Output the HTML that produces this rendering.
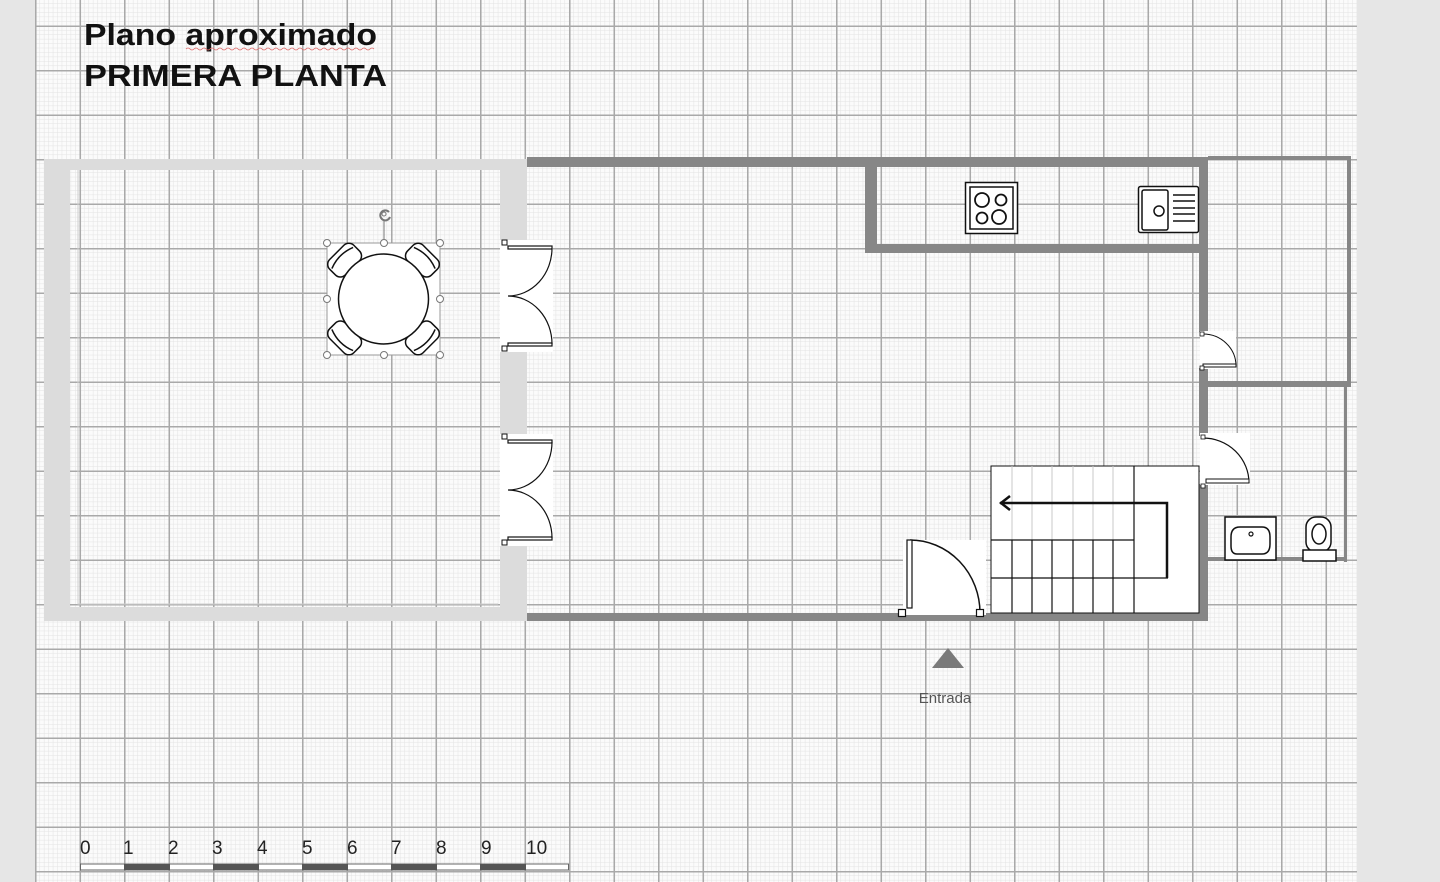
<!DOCTYPE html>
<html><head><meta charset="utf-8"><style>
html,body{margin:0;padding:0;background:#e6e6e6;}
svg{display:block;}
text{font-family:"Liberation Sans",Arial,sans-serif;}
</style></head><body>
<svg width="1440" height="882" viewBox="0 0 1440 882" xmlns="http://www.w3.org/2000/svg">
<defs>
<pattern id="minor" x="35" y="25.5" width="4.45" height="4.45" patternUnits="userSpaceOnUse">
<rect width="4.45" height="4.45" fill="#fbfbfb"/>
<path d="M0 0H4.45M0 0V4.45" stroke="#e3e3e3" stroke-width="1"/>
</pattern>
<pattern id="major" x="35" y="25.5" width="44.5" height="44.5" patternUnits="userSpaceOnUse">
<path d="M0.75 0V44.5M0 0.75H44.5" stroke="#a9a9a9" stroke-width="1.6"/>
</pattern>
</defs>
<rect x="0" y="0" width="1440" height="882" fill="#e6e6e6"/>
<rect x="35" y="0" width="1322" height="882" fill="url(#minor)"/>
<rect x="35" y="0" width="1322" height="882" fill="url(#major)"/>

<!-- title -->
<text x="84" y="45" font-size="31" font-weight="bold" fill="#111" textLength="293" lengthAdjust="spacingAndGlyphs">Plano aproximado</text>
<path d="M186 49 q2 -2 4 0 t4 0 t4 0 t4 0 t4 0 t4 0 t4 0 t4 0 t4 0 t4 0 t4 0 t4 0 t4 0 t4 0 t4 0 t4 0 t4 0 t4 0 t4 0 t4 0 t4 0 t4 0 t4 0 t4 0 t4 0 t4 0 t4 0 t4 0 t4 0 t4 0 t4 0 t4 0 t4 0 t4 0 t4 0 t4 0 t4 0 t4 0 t4 0 t4 0 t4 0 t4 0 t4 0 t4 0 t4 0 t4 0 t4 0" stroke="#d66" stroke-width="0.8" fill="none"/>
<text x="84" y="86" font-size="31" font-weight="bold" fill="#111" textLength="303" lengthAdjust="spacingAndGlyphs">PRIMERA PLANTA</text>

<!-- light walls left room -->
<path d="M44 159H527V621H44Z M70 170V607H500V170Z" fill="#dcdcdc" fill-rule="evenodd"/>
<path d="M78 170V604H498" stroke="#cfcfcf" stroke-width="1" fill="none"/>

<!-- dark walls -->
<g fill="#878787">
<rect x="527" y="157" width="681" height="10"/>
<rect x="527" y="613" width="680" height="8"/>
<rect x="865" y="157" width="12" height="96"/>
<rect x="865" y="244" width="343" height="9"/>
<rect x="1199" y="157" width="9" height="175"/>
<rect x="1199" y="368" width="9" height="68"/>
<rect x="1199" y="484" width="9" height="137"/>
<rect x="1208" y="156" width="143" height="4"/>
<rect x="1347" y="156" width="4" height="231"/>
<rect x="1203" y="381" width="148" height="6"/>
<rect x="1344" y="387" width="3" height="175"/>
<rect x="1208" y="557" width="139" height="4"/>
</g>

<!-- stove -->
<rect x="965.5" y="182.5" width="52" height="51" fill="#fff" stroke="#111" stroke-width="1.5"/>
<rect x="970" y="187" width="43" height="42" fill="none" stroke="#111" stroke-width="1.5"/>
<circle cx="982" cy="200" r="7" fill="none" stroke="#111" stroke-width="1.8"/>
<circle cx="1001" cy="200" r="5.5" fill="none" stroke="#111" stroke-width="1.8"/>
<circle cx="982" cy="218" r="5.5" fill="none" stroke="#111" stroke-width="1.8"/>
<circle cx="999" cy="217" r="7" fill="none" stroke="#111" stroke-width="1.8"/>

<!-- sink -->
<rect x="1138.5" y="186.5" width="60" height="46" rx="2" fill="#fff" stroke="#111" stroke-width="1.5"/>
<rect x="1142" y="190" width="26" height="40" rx="2" fill="none" stroke="#111" stroke-width="1.5"/>
<circle cx="1159" cy="211" r="5" fill="none" stroke="#111" stroke-width="1.5"/>
<path d="M1173 195H1195M1173 201H1195M1173 208H1195M1173 214H1195M1173 221H1195" stroke="#111" stroke-width="1.5"/>

<!-- table -->
<rect x="327" y="243" width="113" height="112" fill="#fff" stroke="#999" stroke-width="1"/>
<g fill="#fff" stroke="#111" stroke-width="1.5">
<g transform="translate(383.5,299)">
<g transform="rotate(-45)"><rect x="-17" y="-66" width="34" height="22" rx="7"/><path d="M-15 -58Q0 -64 15 -58" fill="none"/></g>
<g transform="rotate(45)"><rect x="-17" y="-66" width="34" height="22" rx="7"/><path d="M-15 -58Q0 -64 15 -58" fill="none"/></g>
<g transform="rotate(135)"><rect x="-17" y="-66" width="34" height="22" rx="7"/><path d="M-15 -58Q0 -64 15 -58" fill="none"/></g>
<g transform="rotate(225)"><rect x="-17" y="-66" width="34" height="22" rx="7"/><path d="M-15 -58Q0 -64 15 -58" fill="none"/></g>
<circle r="45"/>
</g>
</g>
<g fill="#fff" stroke="#777" stroke-width="1">
<line x1="384" y1="220" x2="384" y2="243"/>
<circle cx="327" cy="243" r="3.5"/><circle cx="384" cy="243" r="3.5"/><circle cx="440" cy="243" r="3.5"/>
<circle cx="327" cy="299" r="3.5"/><circle cx="440" cy="299" r="3.5"/>
<circle cx="327" cy="355" r="3.5"/><circle cx="384" cy="355" r="3.5"/><circle cx="440" cy="355" r="3.5"/>
<path d="M389 212a5 5 0 1 0 1 5" fill="none" stroke-width="2"/><circle cx="384" cy="214" r="2" fill="none"/>
</g>

<!-- double doors -->
<g>
<rect x="500" y="240" width="53" height="112" fill="#fff"/>
<rect x="500" y="434" width="53" height="112" fill="#fff"/>
<g fill="none" stroke="#111" stroke-width="1.2">
<rect x="508" y="246" width="44" height="3"/>
<rect x="508" y="343" width="44" height="3"/>
<path d="M552 248A44 48 0 0 1 508 296A44 48 0 0 1 552 344"/>
<rect x="508" y="440" width="44" height="3"/>
<rect x="508" y="537" width="44" height="3"/>
<path d="M552 442A44 48 0 0 1 508 490A44 48 0 0 1 552 538"/>
</g>
<g fill="#fff" stroke="#111" stroke-width="1">
<rect x="502" y="240" width="5" height="5"/><rect x="502" y="346" width="5" height="5"/>
<rect x="502" y="434" width="5" height="5"/><rect x="502" y="540" width="5" height="5"/>
</g>
</g>

<!-- right small doors -->
<rect x="1200" y="331" width="36" height="38" fill="#fff"/>
<path d="M1203 334A33 32 0 0 1 1236 366" fill="none" stroke="#111" stroke-width="1"/>
<rect x="1203" y="364" width="33" height="3" fill="#fff" stroke="#111" stroke-width="1"/>
<rect x="1200" y="332" width="4" height="4" fill="#fff" stroke="#111" stroke-width="0.8"/>
<rect x="1200" y="366" width="4" height="4" fill="#fff" stroke="#111" stroke-width="0.8"/>

<rect x="1200" y="433" width="50" height="52" fill="#fff"/>
<path d="M1203 438A46 45 0 0 1 1249 483" fill="none" stroke="#111" stroke-width="1.2"/>
<rect x="1206" y="479" width="43" height="4" fill="#fff" stroke="#111" stroke-width="1"/>
<rect x="1201" y="435" width="4" height="4" fill="#fff" stroke="#111" stroke-width="0.8"/>
<rect x="1201" y="484" width="4" height="4" fill="#fff" stroke="#111" stroke-width="0.8"/>

<!-- bathroom -->
<rect x="1225" y="517" width="51" height="43" fill="#fff" stroke="#111" stroke-width="1.5"/>
<path d="M1240 527H1262Q1270 527 1270 537V544Q1270 554 1262 554H1237Q1231 554 1231 546V537Q1231 527 1240 527Z" fill="none" stroke="#111" stroke-width="1.5"/>
<circle cx="1251" cy="534" r="2" fill="none" stroke="#111" stroke-width="1.2"/>
<rect x="1306" y="517" width="25" height="35" rx="10" fill="#fff" stroke="#111" stroke-width="1.5"/>
<ellipse cx="1319" cy="534" rx="7" ry="10" fill="none" stroke="#111" stroke-width="1.5"/>
<rect x="1303" y="550" width="33" height="11" fill="#fff" stroke="#111" stroke-width="1.5"/>

<!-- stairs -->
<rect x="991" y="466" width="208" height="147" fill="#fff" stroke="#111" stroke-width="1"/>
<g stroke="#c8c8c8" stroke-width="1">
<path d="M1012 466V540M1032 466V540M1052 466V540M1073 466V540M1093 466V540M1113 466V540"/>
</g>
<g stroke="#111" stroke-width="1.2" fill="none">
<path d="M1134 466V613"/>
<path d="M991 540H1134M991 578H1168"/>
<path d="M1012 540V613M1032 540V613M1052 540V613M1073 540V613M1093 540V613M1113 540V613"/>
</g>
<path d="M1000 503H1167V578" fill="none" stroke="#111" stroke-width="2.5"/>
<path d="M1010 496L1001 503L1010 510" fill="none" stroke="#111" stroke-width="2.5"/>

<!-- entrance door -->
<rect x="903" y="540" width="83" height="75" fill="#fff"/>
<path d="M910 540A70 73 0 0 1 980 613" fill="none" stroke="#111" stroke-width="1.5"/>
<rect x="907" y="540" width="5" height="68" fill="#fff" stroke="#111" stroke-width="1.2"/>
<rect x="898.5" y="609.5" width="7" height="7" fill="#fff" stroke="#111" stroke-width="1.2"/>
<rect x="976.5" y="609.5" width="7" height="7" fill="#fff" stroke="#111" stroke-width="1.2"/>

<!-- entrance marker -->
<path d="M932 668L948 648L964 668Z" fill="#7a7a7a"/>
<text x="945" y="703" font-size="15" fill="#555" text-anchor="middle">Entrada</text>

<!-- scale -->
<g font-size="19" fill="#222">
<text x="80" y="854">0</text><text x="123" y="854">1</text><text x="168" y="854">2</text>
<text x="212" y="854">3</text><text x="257" y="854">4</text><text x="302" y="854">5</text>
<text x="347" y="854">6</text><text x="391" y="854">7</text><text x="436" y="854">8</text>
<text x="481" y="854">9</text><text x="526" y="854">10</text>
</g>
<rect x="80.5" y="864" width="488" height="6" fill="#fff" stroke="#666" stroke-width="1"/>
<g fill="#555">
<rect x="124" y="864" width="46" height="6"/><rect x="213" y="864" width="46" height="6"/>
<rect x="302" y="864" width="46" height="6"/><rect x="391" y="864" width="46" height="6"/>
<rect x="480" y="864" width="46" height="6"/>
</g>
</svg>
</body></html>
